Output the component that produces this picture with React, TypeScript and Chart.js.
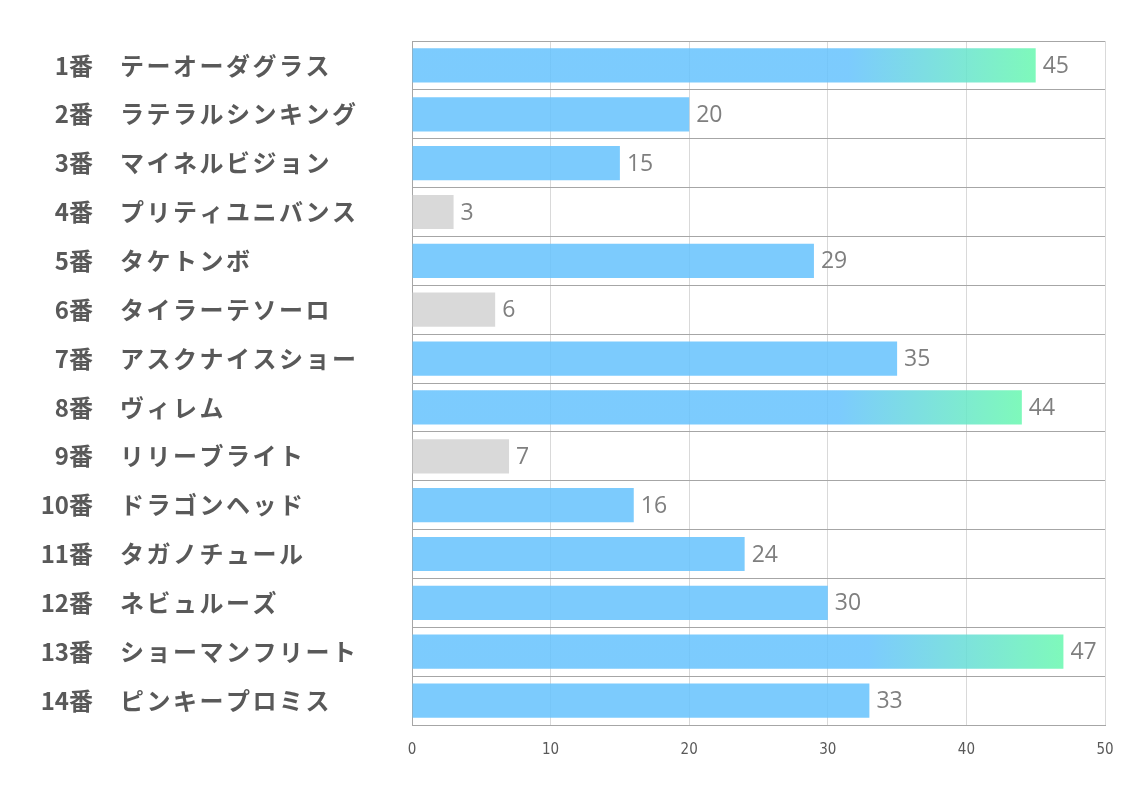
import React, { useEffect, useRef } from "react";
import { Chart, registerables } from "chart.js";

Chart.register(...registerables);

const horseNumbers = ["1番", "2番", "3番", "4番", "5番", "6番", "7番", "8番", "9番", "10番", "11番", "12番", "13番", "14番"];
const horseNames = [
  "テーオーダグラス",
  "ラテラルシンキング",
  "マイネルビジョン",
  "プリティユニバンス",
  "タケトンボ",
  "タイラーテソーロ",
  "アスクナイスショー",
  "ヴィレム",
  "リリーブライト",
  "ドラゴンヘッド",
  "タガノチュール",
  "ネビュルーズ",
  "ショーマンフリート",
  "ピンキープロミス",
];
const scores = [45, 20, 15, 3, 29, 6, 35, 44, 7, 16, 24, 30, 47, 33];
const xTicks = [0, 10, 20, 30, 40, 50];

const BLUE = "rgba(101,194,253,0.85)";
const GREEN = "rgba(104,248,175,0.85)";
const GRAY = "rgba(210,210,210,0.85)";

const labelPlugin = {
  id: "customLabels",
  afterDatasetsDraw(chart: any) {
    const ctx = chart.ctx;
    const y = chart.scales.y;
    ctx.save();
    horseNumbers.forEach((num, i) => {
      const py = y.getPixelForValue(i);
      ctx.font = "bold 24px 'Noto Sans CJK JP'";
      ctx.fillStyle = "#595959";
      ctx.textBaseline = "middle";
      ctx.textAlign = "right";
      (ctx as any).letterSpacing = "0px";
      ctx.fillText(num, 93, py);
      ctx.textAlign = "left";
      (ctx as any).letterSpacing = "2.5px";
      ctx.fillText(horseNames[i], 120, py);
    });
    (ctx as any).letterSpacing = "0px";
    const meta = chart.getDatasetMeta(0);
    meta.data.forEach((bar: any, i: number) => {
      ctx.font = "23px 'Open Sans'";
      ctx.fillStyle = "#7f7f7f";
      ctx.textAlign = "left";
      ctx.textBaseline = "middle";
      ctx.fillText(String(scores[i]), bar.x + 7, bar.y + 1);
    });
    ctx.restore();
  },
};

export default function App() {
  const ref = useRef<HTMLCanvasElement>(null);
  useEffect(() => {
    if (!ref.current) return;
    const chart = new Chart(ref.current, {
      type: "bar",
      data: {
        labels: horseNames.map((n, i) => horseNumbers[i] + "　" + n),
        datasets: [
          {
            data: scores,
            barPercentage: 0.7,
            categoryPercentage: 1,
            backgroundColor: (c: any) => {
              const v = scores[c.dataIndex];
              if (v < 10) return GRAY;
              if (v < 40) return BLUE;
              const chartObj = c.chart;
              const xs = chartObj.scales?.x;
              if (!xs || !chartObj.chartArea) return BLUE;
              const x0 = xs.getPixelForValue(0);
              const x1 = xs.getPixelForValue(v);
              const g = chartObj.ctx.createLinearGradient(x0, 0, x1, 0);
              g.addColorStop(0, BLUE);
              g.addColorStop(0.7, BLUE);
              g.addColorStop(1, GREEN);
              return g;
            },
            borderWidth: 0,
          },
        ],
      },
      options: {
        indexAxis: "y",
        animation: false,
        responsive: false,
        maintainAspectRatio: false,
        layout: { padding: { top: 41, right: 29, left: 0, bottom: 0 } },
        plugins: { legend: { display: false }, tooltip: { enabled: false } },
        scales: {
          x: {
            min: 0,
            max: 50,
            afterBuildTicks: (s: any) => {
              s.ticks = xTicks.map((v) => ({ value: v }));
            },
            afterFit: (s: any) => {
              s.height = 68;
            },
            grid: { color: "#d9d9d9", drawTicks: false, lineWidth: 1 },
            border: { color: "#a6a6a6", width: 1 },
            ticks: {
              padding: 16,
              color: "#595959",
              font: { size: 15, family: "'Liberation Sans Narrow', 'DejaVu Sans Condensed', sans-serif" },
            },
          },
          y: {
            afterFit: (s: any) => {
              s.width = 412;
            },
            grid: { color: "#a6a6a6", drawTicks: false, offset: true, lineWidth: 1 },
            border: { color: "#a6a6a6", width: 1 },
            ticks: { display: false },
          },
        },
      },
      plugins: [labelPlugin],
    } as any);
    return () => chart.destroy();
  }, []);
  return (
    <div style={{ position: "fixed", left: 0, top: 0, width: 1134, height: 793, background: "#fff" }}>
      <canvas ref={ref} width={1134} height={793} style={{ width: 1134, height: 793 }} />
    </div>
  );
}
